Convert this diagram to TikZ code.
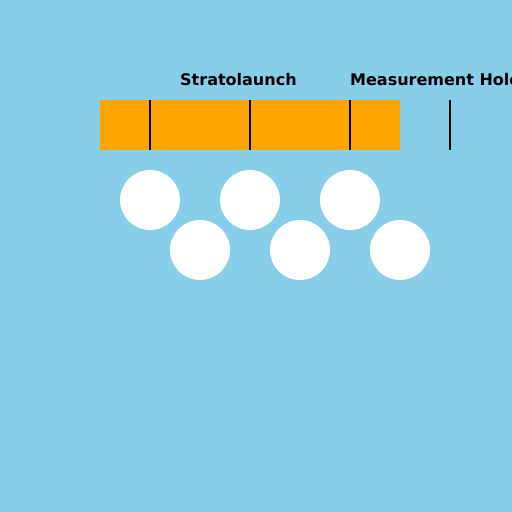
\documentclass[tikz,border=0pt]{standalone}
\usepackage{fontspec}
\setmainfont{DejaVu Sans}
\usepackage{tikz}
\usetikzlibrary{positioning, backgrounds}
\definecolor{skyblue}{HTML}{87CEEB}
\definecolor{hullorange}{HTML}{FFA500}
\tikzset{
  label text/.style={anchor=base west, inner sep=0pt, font=\fontsize{16}{16}\selectfont\bfseries},
  wheel/.style={circle, fill=white, minimum size=60, inner sep=0pt},
  tick/.style={draw=black, line width=2}
}

\begin{document}
\begin{tikzpicture}[x=1pt, y=-1pt]
    \useasboundingbox (0,0) rectangle (512,512);
    \clip (0,0) rectangle (512,512);
    \fill[skyblue] (0,0) rectangle (512,512);
    \fill[hullorange] (100,100) rectangle (400,150);
    \foreach \X in {150,250,350,450}
    \draw[tick] (\X,100) -- (\X,150);
    \foreach \Point/\Name in {
      (150,200)/w1,
      (250,200)/w2,
      (350,200)/w3,
      (200,250)/w4,
      (300,250)/w5,
      (400,250)/w6
    }
    \node[wheel] (\Name) at \Point {};
    \node[label text] (craft) at (180,85) {Stratolaunch};
    \node[label text] (hole) at (350,85) {Measurement Hole};
  \end{tikzpicture}
\end{document}
